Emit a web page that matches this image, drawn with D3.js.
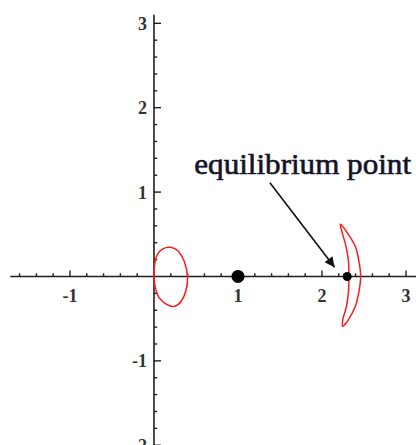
<!DOCTYPE html>
<html>
<head>
<meta charset="utf-8">
<script src="https://cdn.jsdelivr.net/npm/d3@7"></script>
<style>
html,body{margin:0;padding:0;background:#fff;}
svg{display:block;}
</style>
</head>
<body>
<svg id="chart" width="416" height="445"></svg>
<script>
// ---- data (data units) ----
const xMajorTicks = [-1, 1, 2, 3];
const yMajorTicks = [-2, -1, 1, 2, 3];
const xTickLabels = ["-1", "1", "2", "3"];
const yTickLabels = ["-2", "-1", "1", "2", "3"];
const xAxisExtent = [-1.71, 3.12];
const yAxisExtent = [-2, 3.1];
const minorStep = 0.2;

// closed red curve near the origin
const ovalX = [0.01, 0.04, 0.11, 0.20, 0.29, 0.36, 0.40, 0.38, 0.32, 0.24, 0.15, 0.06, 0.015, 0.0];
const ovalY = [0.16, 0.26, 0.33, 0.345, 0.30, 0.18, 0.0, -0.17, -0.30, -0.355, -0.33, -0.25, -0.13, 0.0];

// crescent-shaped closed red curve around the equilibrium point
const crescentX = [2.22, 2.30, 2.395, 2.44, 2.46, 2.44, 2.395, 2.31, 2.245, 2.25, 2.29, 2.315, 2.32, 2.315, 2.285, 2.24];
const crescentY = [0.62, 0.52, 0.36, 0.18, 0.0, -0.18, -0.36, -0.52, -0.59, -0.50, -0.36, -0.18, 0.0, 0.18, 0.36, 0.52];

// points
const pointX = [1, 2.30];
const pointY = [0, 0];
const pointR = [6.5, 4.5];

// annotation
const annotationText = "equilibrium point";
const annotationTextPos = [0.48, 1.21];   // left, baseline
const annotationTextWidth = 2.58;          // in x units
const arrowFrom = [1.38, 1.11];
const arrowTo = [2.15, 0.11];

// ---- scales ----
const W = 416, H = 445;
const x = d3.scaleLinear().domain([-1.833, 3.119]).range([0, W]);
const y = d3.scaleLinear().domain([3.276, -1.997]).range([0, H]);

const svg = d3.select("#chart");
const axisColor = "#1e1e1e";

// ---- axes ----
const g = svg.append("g");
g.append("line")
  .attr("x1", x(xAxisExtent[0])).attr("x2", x(xAxisExtent[1]))
  .attr("y1", y(0)).attr("y2", y(0))
  .attr("stroke", axisColor).attr("stroke-width", 1.6);
g.append("line")
  .attr("x1", x(0)).attr("x2", x(0))
  .attr("y1", y(yAxisExtent[0])).attr("y2", y(yAxisExtent[1]))
  .attr("stroke", axisColor).attr("stroke-width", 1.6);

const round = v => Math.round(v * 10) / 10;
const xMinor = d3.range(Math.ceil(xAxisExtent[0] / minorStep), Math.floor(xAxisExtent[1] / minorStep) + 1)
  .map(i => round(i * minorStep)).filter(v => v !== 0 && !Number.isInteger(v));
const yMinor = d3.range(Math.ceil(yAxisExtent[0] / minorStep), Math.floor(yAxisExtent[1] / minorStep) + 1)
  .map(i => round(i * minorStep)).filter(v => v !== 0 && !Number.isInteger(v));

g.selectAll(".xminor").data(xMinor).enter().append("line")
  .attr("x1", d => x(d)).attr("x2", d => x(d))
  .attr("y1", y(0)).attr("y2", y(0) - 3.2)
  .attr("stroke", axisColor).attr("stroke-width", 1.4);
g.selectAll(".yminor").data(yMinor).enter().append("line")
  .attr("x1", x(0)).attr("x2", x(0) + 3.2)
  .attr("y1", d => y(d)).attr("y2", d => y(d))
  .attr("stroke", axisColor).attr("stroke-width", 1.4);
g.selectAll(".xmajor").data(xMajorTicks).enter().append("line")
  .attr("x1", d => x(d)).attr("x2", d => x(d))
  .attr("y1", y(0)).attr("y2", y(0) - 6)
  .attr("stroke", axisColor).attr("stroke-width", 1.4);
g.selectAll(".ymajor").data(yMajorTicks).enter().append("line")
  .attr("x1", x(0)).attr("x2", x(0) + 7)
  .attr("y1", d => y(d)).attr("y2", d => y(d))
  .attr("stroke", axisColor).attr("stroke-width", 1.4);

const labelFont = "'Liberation Serif', 'DejaVu Serif', serif";
g.selectAll(".xlab").data(xMajorTicks).enter().append("text")
  .attr("x", d => x(d)).attr("y", y(0) + 26)
  .attr("text-anchor", "middle")
  .attr("font-family", labelFont).attr("font-size", 18).attr("font-weight", "bold")
  .attr("fill", "#333")
  .text((d, i) => xTickLabels[i]);
g.selectAll(".ylab").data(yMajorTicks).enter().append("text")
  .attr("x", x(0) - 7).attr("y", d => y(d) + 6.5)
  .attr("text-anchor", "end")
  .attr("font-family", labelFont).attr("font-size", 18).attr("font-weight", "bold")
  .attr("fill", "#333")
  .text((d, i) => yTickLabels[i]);

// ---- red curves ----
const line = d3.line().x(d => x(d[0])).y(d => y(d[1])).curve(d3.curveCardinalClosed.tension(0.2));
svg.append("path")
  .attr("d", line(ovalX.map((v, i) => [v, ovalY[i]])))
  .attr("fill", "none").attr("stroke", "#ff1a1a").attr("stroke-width", 1.5);
svg.append("path")
  .attr("d", line(crescentX.map((v, i) => [v, crescentY[i]])))
  .attr("fill", "none").attr("stroke", "#ff1a1a").attr("stroke-width", 1.5);

// ---- points ----
svg.selectAll(".pt").data(pointX).enter().append("circle")
  .attr("cx", d => x(d)).attr("cy", (d, i) => y(pointY[i]))
  .attr("r", (d, i) => pointR[i]).attr("fill", "#000");

// ---- annotation ----
svg.append("defs").append("marker")
  .attr("id", "ah").attr("viewBox", "0 0 10 10")
  .attr("refX", 10).attr("refY", 5)
  .attr("markerWidth", 13).attr("markerHeight", 10)
  .attr("markerUnits", "userSpaceOnUse")
  .attr("orient", "auto")
  .append("path").attr("d", "M0,0 L10,5 L0,10 z").attr("fill", "#111");
svg.append("line")
  .attr("x1", x(arrowFrom[0])).attr("y1", y(arrowFrom[1]))
  .attr("x2", x(arrowTo[0])).attr("y2", y(arrowTo[1]))
  .attr("stroke", "#111").attr("stroke-width", 1.6)
  .attr("marker-end", "url(#ah)");
svg.append("text")
  .attr("x", x(annotationTextPos[0])).attr("y", y(annotationTextPos[1]))
  .attr("font-family", "'Liberation Serif', serif").attr("font-size", 29)
  .attr("fill", "#141428")
  .attr("stroke", "#141428").attr("stroke-width", 0.6)
  .attr("textLength", x(annotationTextWidth) - x(0))
  .attr("lengthAdjust", "spacingAndGlyphs")
  .text(annotationText);
</script>
</body>
</html>
